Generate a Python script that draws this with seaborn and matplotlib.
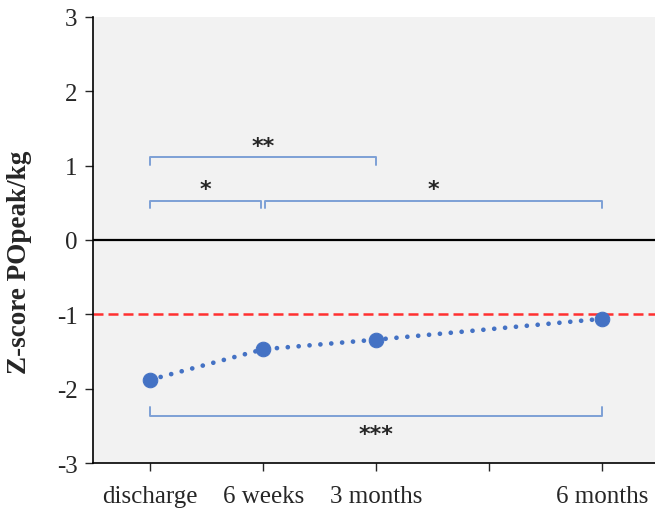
import numpy as np
import pandas as pd
import seaborn as sns
import matplotlib.pyplot as plt

# Time points (weeks after discharge) and z-scores
weeks = [0, 6, 12, 24]
zscore = [-1.88, -1.47, -1.34, -1.06]
tick_pos = [0, 6, 12, 18, 24]
tick_labels = ['discharge', '6 weeks', '3 months', '', '6 months']

# significance brackets: (start, end, height, label)
brk_start = [0, 0, 6.1, 0]
brk_end = [12, 5.9, 24, 24]
brk_y = [1.11, 0.53, 0.53, -2.37]
brk_label = ['**', '*', '*', '***']

df = pd.DataFrame({'week': weeks, 'z': zscore})

sns.set_style('ticks')
plt.rcParams['font.family'] = ['Liberation Serif', 'DejaVu Serif']
plt.rcParams['axes.unicode_minus'] = False

fig = plt.figure(figsize=(6.55, 5.1), dpi=100)
ax = fig.add_axes([0.142, 0.09, 0.858, 0.875])
ax.set_facecolor('#f2f2f2')

ax.axhline(0, color='black', lw=1.6, zorder=1)
ax.axhline(-1, color='#ff3030', lw=1.8, ls=(0, (4, 2)), zorder=1)

sns.lineplot(data=df, x='week', y='z', ax=ax, color='#4472c4', lw=3.4,
             linestyle=(0, (0.01, 2.3)), dash_capstyle='round',
             marker='o', markersize=10.5,
             markeredgecolor='#4472c4', zorder=3)

bc = '#7da0d6'
for x0, x1, y, lab in zip(brk_start, brk_end, brk_y, brk_label):
    if y > 0:
        ax.plot([x0, x0, x1, x1], [y - 0.1, y, y, y - 0.1], color=bc, lw=1.4)
        ax.text((x0 + x1) / 2, y + 0.02, lab, ha='center', va='bottom',
                fontsize=16, fontweight='bold', family='DejaVu Sans')
    else:
        ax.plot([x0, x0, x1, x1], [y + 0.12, y, y, y + 0.12], color=bc, lw=1.4)
        ax.text((x0 + x1) / 2, y - 0.1, lab, ha='center', va='top',
                fontsize=16, fontweight='bold', family='DejaVu Sans')

ax.set_xlim(-3.03, 26.8)
ax.set_ylim(-3, 3)
ax.set_xticks(tick_pos)
ax.set_xticklabels(tick_labels, fontsize=18)
ax.set_yticks(range(-3, 4))
ax.tick_params(axis='y', labelsize=18, length=6, width=1, pad=5)
ax.tick_params(axis='x', length=6, width=1, pad=10)
ax.set_xlabel('')
ax.set_ylabel('Z-score POpeak/kg', fontsize=19.5, fontweight='bold')
ax.yaxis.set_label_coords(-0.108, 0.453)
sns.despine(ax=ax)
for s in ['left', 'bottom']:
    ax.spines[s].set_color('black')
    ax.spines[s].set_linewidth(1.2)

fig.savefig('out.png', dpi=100)
